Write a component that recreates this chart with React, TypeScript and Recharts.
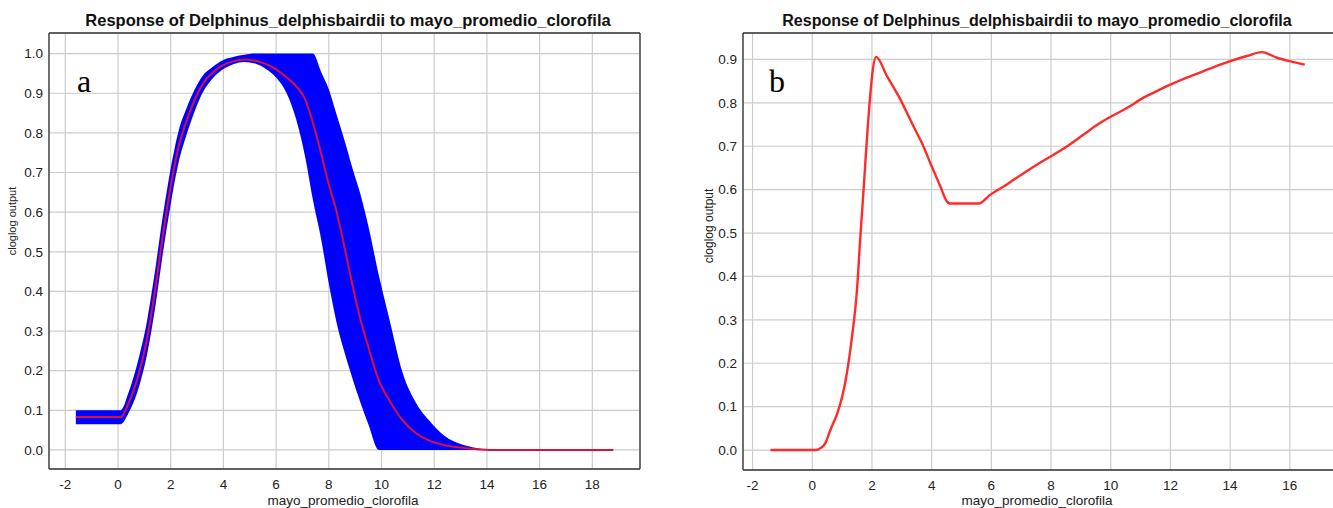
import { ComposedChart, LineChart, Line, Area, XAxis, YAxis, CartesianGrid } from "recharts";

// panel a: mean response with min/max band over the replicates
const chlA = [-1.6, 0.1, 0.4, 0.8, 1.1, 1.4, 1.7, 2.0, 2.3, 2.6, 2.9, 3.2, 3.6, 4.0, 4.4, 4.8, 5.2, 5.6, 6.0, 6.4, 6.8, 7.1, 7.4, 7.7, 8.0, 8.3, 8.6, 8.9, 9.2, 9.5, 9.9, 10.3, 10.8, 11.3, 11.8, 12.4, 13.0, 13.6, 14.2, 18.8];
const meanA = [0.083, 0.083, 0.118, 0.195, 0.28, 0.4, 0.54, 0.665, 0.765, 0.83, 0.882, 0.922, 0.953, 0.971, 0.981, 0.985, 0.982, 0.974, 0.96, 0.94, 0.915, 0.885, 0.825, 0.75, 0.67, 0.6, 0.51, 0.415, 0.33, 0.26, 0.175, 0.125, 0.075, 0.043, 0.024, 0.012, 0.006, 0.002, 0, 0];
const lowA = [0.065, 0.065, 0.093, 0.16, 0.24, 0.355, 0.495, 0.62, 0.725, 0.795, 0.853, 0.9, 0.938, 0.961, 0.974, 0.979, 0.975, 0.962, 0.94, 0.9, 0.825, 0.74, 0.63, 0.535, 0.42, 0.32, 0.245, 0.18, 0.12, 0.065, 0, 0, 0, 0, 0, 0, 0, 0, 0, 0];
const highA = [0.1, 0.1, 0.145, 0.235, 0.325, 0.45, 0.59, 0.71, 0.805, 0.862, 0.908, 0.943, 0.967, 0.984, 0.992, 0.997, 1.0, 1.0, 1.0, 1.0, 1.0, 1.0, 1.0, 0.955, 0.91, 0.845, 0.78, 0.71, 0.645, 0.565, 0.44, 0.33, 0.195, 0.12, 0.075, 0.035, 0.015, 0.005, 0, 0];

// panel b: single response curve
const chlB = [-1.4, 0.1, 0.27, 0.44, 0.6, 0.83, 1.0, 1.16, 1.33, 1.5, 1.61, 1.72, 1.83, 1.94, 2.03, 2.14, 2.5, 2.95, 3.39, 3.67, 4.0, 4.29, 4.51, 4.62, 5.57, 5.96, 6.52, 7.08, 7.63, 8.0, 8.54, 9.09, 9.65, 10.0, 10.54, 11.1, 11.66, 12.0, 12.55, 13.11, 13.67, 14.0, 14.56, 15.06, 15.57, 16.0, 16.5];
const respB = [0, 0, 0.004, 0.016, 0.045, 0.083, 0.122, 0.177, 0.26, 0.37, 0.49, 0.6, 0.715, 0.815, 0.877, 0.906, 0.862, 0.808, 0.746, 0.708, 0.654, 0.608, 0.573, 0.568, 0.568, 0.588, 0.612, 0.638, 0.662, 0.677, 0.7, 0.727, 0.754, 0.768, 0.788, 0.812, 0.831, 0.842, 0.858, 0.873, 0.888, 0.896, 0.908, 0.917, 0.904, 0.896, 0.888];

const ticksXA = [-2, 0, 2, 4, 6, 8, 10, 12, 14, 16, 18];
const ticksYA = [0, 0.1, 0.2, 0.3, 0.4, 0.5, 0.6, 0.7, 0.8, 0.9, 1.0];
const ticksXB = [-2, 0, 2, 4, 6, 8, 10, 12, 14, 16];
const ticksYB = [0, 0.1, 0.2, 0.3, 0.4, 0.5, 0.6, 0.7, 0.8, 0.9];

const title = "Response of Delphinus_delphisbairdii to mayo_promedio_clorofila";
const xTitle = "mayo_promedio_clorofila";
const yTitle = "cloglog output";

const dataA = chlA.map((x, i) => ({ x, mean: meanA[i], band: [lowA[i], highA[i]] }));
const dataB = chlB.map((x, i) => ({ x, resp: respB[i] }));

const font = "'Liberation Sans', Arial, Helvetica, sans-serif";
const tickStyle = { fontSize: 13.5, fill: "#222", fontFamily: font };
const frame = { stroke: "#333", strokeWidth: 1.3 };
const inTick = { stroke: "#444", strokeWidth: 1 };
const fmtY = (v: number) => v.toFixed(1);

export default function App() {
    const xDomA: [number, number] = [-2.619, 19.81];
    const yDomA: [number, number] = [-0.048, 1.052];
    const xDomB: [number, number] = [-2.32, 17.48];
    const yDomB: [number, number] = [-0.046, 0.961];

    return (
        <div style={{ position: "absolute", left: 0, top: 0, width: 1333, height: 508, overflow: "hidden", background: "#fff" }}>
            <div style={{ position: "absolute", left: 0, top: 0 }}>
                <ComposedChart width={660} height={508} data={dataA} margin={{ top: 33, right: 20, bottom: 0, left: 0 }}>
                    <CartesianGrid stroke="#cccccc" strokeWidth={1.2} />
                    <XAxis type="number" dataKey="x" domain={xDomA} ticks={ticksXA} interval={0} allowDataOverflow
                        height={39} tickLine={false} tickSize={0} tickMargin={10} axisLine={frame} tick={tickStyle} />
                    <XAxis xAxisId="top" orientation="top" mirror type="number" domain={xDomA} ticks={ticksXA} interval={0}
                        allowDataOverflow tick={false} tickSize={5} axisLine={frame} tickLine={inTick} />
                    <XAxis xAxisId="bot" orientation="bottom" mirror type="number" domain={xDomA} ticks={ticksXA} interval={0}
                        allowDataOverflow tick={false} tickSize={5} axisLine={false} tickLine={inTick} />
                    <YAxis type="number" domain={yDomA} ticks={ticksYA} interval={0} allowDataOverflow width={49}
                        tickLine={false} tickSize={0} tickMargin={6} tickFormatter={fmtY} axisLine={frame} tick={tickStyle} />
                    <YAxis yAxisId="rgt" orientation="right" mirror type="number" domain={yDomA} ticks={ticksYA} interval={0}
                        allowDataOverflow tick={false} tickSize={5} axisLine={frame} tickLine={inTick} />
                    <YAxis yAxisId="lft" orientation="left" mirror type="number" domain={yDomA} ticks={ticksYA} interval={0}
                        allowDataOverflow tick={false} tickSize={5} axisLine={false} tickLine={inTick} />
                    <Area dataKey="band" type="monotone" stroke="none" fill="#0000ff" fillOpacity={1} isAnimationActive={false} />
                    <Line dataKey="mean" type="monotone" stroke="#d8103c" strokeWidth={2} dot={false} isAnimationActive={false} />
                </ComposedChart>
            </div>

            <div style={{ position: "absolute", left: 670, top: 0 }}>
                <LineChart width={666} height={508} data={dataB} margin={{ top: 33, right: 2, bottom: 0, left: 0 }}>
                    <CartesianGrid stroke="#cccccc" strokeWidth={1.2} />
                    <XAxis type="number" dataKey="x" domain={xDomB} ticks={ticksXB} interval={0} allowDataOverflow
                        height={38} tickLine={false} tickSize={0} tickMargin={10} axisLine={frame} tick={tickStyle} />
                    <XAxis xAxisId="top" orientation="top" mirror type="number" domain={xDomB} ticks={ticksXB} interval={0}
                        allowDataOverflow tick={false} tickSize={5} axisLine={frame} tickLine={inTick} />
                    <XAxis xAxisId="bot" orientation="bottom" mirror type="number" domain={xDomB} ticks={ticksXB} interval={0}
                        allowDataOverflow tick={false} tickSize={5} axisLine={false} tickLine={inTick} />
                    <YAxis type="number" domain={yDomB} ticks={ticksYB} interval={0} allowDataOverflow width={73}
                        tickLine={false} tickSize={0} tickMargin={6} tickFormatter={fmtY} axisLine={frame} tick={tickStyle} />
                    <YAxis yAxisId="rgt" orientation="right" mirror type="number" domain={yDomB} ticks={ticksYB} interval={0}
                        allowDataOverflow tick={false} tickSize={5} axisLine={frame} tickLine={inTick} />
                    <YAxis yAxisId="lft" orientation="left" mirror type="number" domain={yDomB} ticks={ticksYB} interval={0}
                        allowDataOverflow tick={false} tickSize={5} axisLine={false} tickLine={inTick} />
                    <Line dataKey="resp" type="monotone" stroke="#ff2b2b" strokeWidth={2.4} dot={false} isAnimationActive={false} />
                </LineChart>
            </div>

            {/* titles, axis names and panel letters */}
            <svg width={1333} height={508} style={{ position: "absolute", left: 0, top: 0, pointerEvents: "none" }}>
                <text x={348} y={26} textAnchor="middle" fontFamily={font} fontWeight="bold" fontSize={16.5} fill="#111">{title}</text>
                <text x={1037} y={26} textAnchor="middle" fontFamily={font} fontWeight="bold" fontSize={16} fill="#111">{title}</text>
                <text x={343} y={505} textAnchor="middle" fontFamily={font} fontSize={13.5} fill="#222">{xTitle}</text>
                <text x={1037} y={505} textAnchor="middle" fontFamily={font} fontSize={13.5} fill="#222">{xTitle}</text>
                <text transform="translate(16,221) rotate(-90)" textAnchor="middle" fontFamily={font} fontSize={11} fill="#222">{yTitle}</text>
                <text transform="translate(713,226) rotate(-90)" textAnchor="middle" fontFamily={font} fontSize={12} fill="#222">{yTitle}</text>
                <text x={77} y={92} fontFamily="'Liberation Serif', 'Times New Roman', serif" fontSize={32} fill="#000">a</text>
                <text x={769} y={92} fontFamily="'Liberation Serif', 'Times New Roman', serif" fontSize={32} fill="#000">b</text>
            </svg>
        </div>
    );
}
